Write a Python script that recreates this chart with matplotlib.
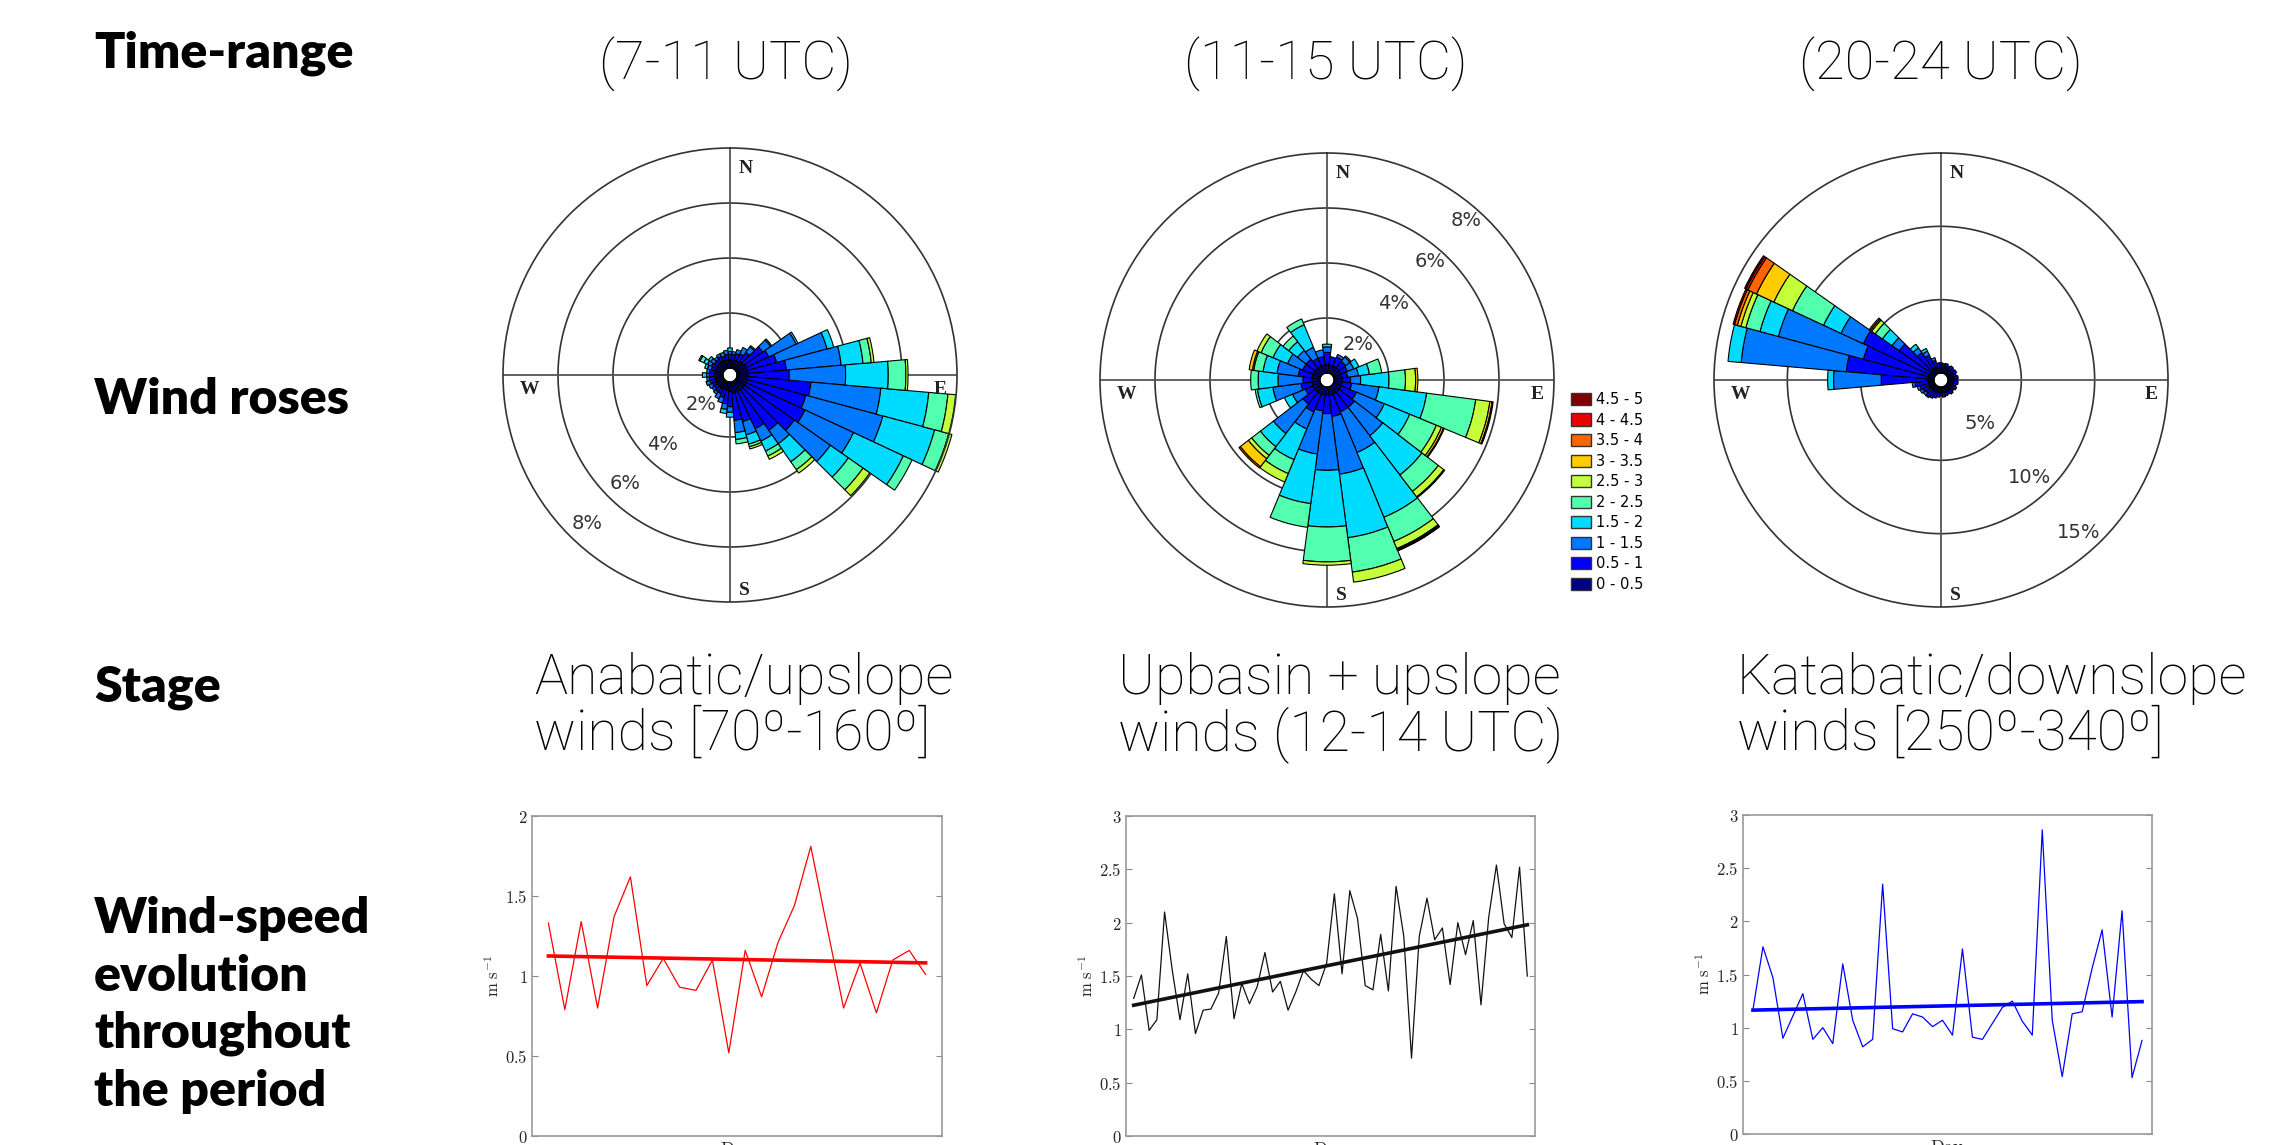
import matplotlib.pyplot as plt
import numpy as np
from matplotlib.patches import Patch

plt.rcParams['mathtext.fontset'] = 'cm'

W, H = 2276, 1145

# ---- texts ----
row_titles = ["Time-range", "Wind roses", "Stage"]
speed_title = ["Wind-speed", "evolution", "throughout", "the period"]
time_ranges = ["(7-11 UTC)", "(11-15 UTC)", "(20-24 UTC)"]
stage_line1 = ["Anabatic/upslope", "Upbasin + upslope", "Katabatic/downslope"]
stage_line2 = ["winds [70º-160º]", "winds (12-14 UTC)", "winds [250º-340º]"]

# ---- speed classes (m/s) ----
speed_bins = ['0 - 0.5', '0.5 - 1', '1 - 1.5', '1.5 - 2', '2 - 2.5',
              '2.5 - 3', '3 - 3.5', '3.5 - 4', '4 - 4.5', '4.5 - 5']
bin_colors = ['#000080', '#0000ff', '#0078ff', '#00dcff', '#52ffae',
              '#c4ff3c', '#ffcc00', '#ff6400', '#ee0000', '#800000']

# ---- wind roses: cumulative frequency (%) per direction, by speed class ----
rose1_dirs = list(range(0, 360, 10))
rose1_cum = [
    [0.3, 0.5, 0.6, 0.73], [0.3, 0.5, 0.6], [0.3, 0.55, 0.7], [0.3, 0.6, 0.85],
    [0.35, 0.75, 1.0, 1.05], [0.35, 1.2, 1.55, 1.6], [0.4, 1.3, 2.4, 2.47],
    [0.4, 1.5, 3.4, 3.65], [0.4, 1.8, 3.8, 4.6, 4.9, 5.0],
    [0.4, 1.9, 3.95, 5.5, 6.14, 6.22], [0.4, 2.7, 5.25, 7.0, 7.7, 7.98],
    [0.4, 2.6, 5.5, 7.45, 7.98, 8.1], [0.4, 2.75, 4.7, 6.7, 7.05],
    [0.4, 2.6, 4.2, 5.0, 5.65, 5.95], [0.4, 2.2, 2.8, 3.6, 3.95, 4.1],
    [0.4, 1.9, 2.4, 2.8, 3.0, 3.13], [0.4, 1.5, 2.0, 2.35, 2.45, 2.53],
    [0.4, 1.4, 1.85, 2.1, 2.26], [0.35, 0.9, 1.1, 1.28], [0.3, 0.8, 1.0, 1.15],
    [0.3, 0.6, 0.8], [0.3, 0.5, 0.7], [0.3, 0.5, 0.6], [0.3, 0.45, 0.55],
    [0.3, 0.45, 0.6], [0.3, 0.5, 0.65], [0.3, 0.5, 0.6], [0.3, 0.5, 0.6, 0.75],
    [0.3, 0.5, 0.6], [0.3, 0.45, 0.6, 0.7], [0.3, 0.5, 0.65, 0.8, 0.95, 1.0],
    [0.3, 0.45, 0.6, 0.7], [0.3, 0.45, 0.55], [0.3, 0.5, 0.6], [0.3, 0.45, 0.6],
    [0.3, 0.5, 0.65],
]

rose2_dirs = list(range(0, 360, 15))
rose2_cum = [
    [0.3, 0.75, 0.95, 1.05], [0.3, 0.6], [0.3, 0.65, 0.75], [0.3, 0.6, 0.8, 0.85],
    [0.3, 0.55, 0.8, 1.0], [0.3, 0.5, 0.9, 1.3, 1.75],
    [0.3, 0.6, 0.97, 2.0, 2.6, 2.97, 3.05],
    [0.3, 0.65, 1.65, 3.4, 5.2, 5.72, 5.8, 5.84],
    [0.3, 0.9, 2.0, 3.0, 4.05, 4.25, 4.33, 4.36],
    [0.3, 1.0, 2.3, 4.1, 4.85, 5.1, 5.14],
    [0.3, 1.0, 2.6, 5.15, 6.1, 6.38, 6.42, 6.45, 6.47],
    [0.3, 1.08, 3.2, 5.53, 6.79, 7.16],
    [0.3, 0.97, 3.03, 5.09, 6.36, 6.48],
    [0.3, 0.88, 2.46, 4.28, 5.15],
    [0.3, 1.0, 1.67, 2.88, 3.43, 3.76],
    [0.3, 0.85, 2.2, 2.8, 3.2, 3.35, 3.72, 3.78],
    [0.3, 0.6, 1.1, 1.42], [0.3, 0.7, 1.73, 2.3, 2.38],
    [0.3, 0.62, 1.53, 2.25, 2.52], [0.3, 0.8, 1.58, 2.09, 2.43, 2.48, 2.6],
    [0.3, 0.7, 1.3, 1.87, 2.34, 2.5], [0.3, 0.7, 1.1, 1.5, 1.76],
    [0.3, 0.6, 1.03, 1.92, 2.15], [0.3, 0.6, 0.85],
]

rose3_dirs = list(range(0, 360, 10))
rose3_cum = [
    [0.4, 0.7], [0.4, 0.65], [0.4, 0.7], [0.4, 0.6], [0.4, 0.7], [0.4, 0.65],
    [0.4, 0.7], [0.4, 0.6], [0.4, 0.7], [0.4, 0.65], [0.4, 0.7], [0.4, 0.6],
    [0.4, 0.7], [0.4, 0.6], [0.4, 0.7], [0.4, 0.6], [0.4, 0.65], [0.4, 0.7],
    [0.4, 0.6], [0.4, 0.7], [0.4, 0.8], [0.4, 0.9], [0.4, 0.9, 1.0],
    [0.4, 0.8, 1.0], [0.4, 0.9, 1.1], [0.4, 1.0, 1.2], [0.4, 1.3, 1.5],
    [0.4, 3.6, 6.85, 7.25], [0.4, 6.0, 13.2, 14.1],
    [0.4, 5.0, 11.0, 12.3, 13.3, 13.65, 13.9, 14.1, 14.2],
    [0.4, 5.37, 7.05, 8.36, 10.7, 12.1, 13.4, 14.05, 14.2, 14.3],
    [0.4, 3.0, 3.6, 4.4, 5.0, 5.3, 5.4, 5.5],
    [0.4, 1.8, 2.2, 2.5], [0.4, 1.4, 1.7, 1.9], [0.4, 0.9, 1.1], [0.4, 0.7],
]

# ---- daily wind speed (m/s) ----
speed1 = [1.33, 0.79, 1.34, 0.80, 1.37, 1.62, 0.94, 1.11, 0.93, 0.91, 1.10, 0.52,
          1.16, 0.87, 1.21, 1.44, 1.81, 1.30, 0.80, 1.08, 0.77, 1.10, 1.16, 1.01]
speed2 = [1.29, 1.51, 0.99, 1.09, 2.10, 1.55, 1.09, 1.52, 0.96, 1.18,
          1.19, 1.34, 1.87, 1.10, 1.43, 1.24, 1.40, 1.72, 1.35, 1.45,
          1.18, 1.35, 1.55, 1.47, 1.41, 1.62, 2.27, 1.52, 2.30, 2.04,
          1.41, 1.37, 1.89, 1.36, 2.34, 1.87, 0.73, 1.87, 2.23, 1.84,
          1.95, 1.42, 2.00, 1.70, 2.02, 1.23, 2.05, 2.54, 1.99, 1.86,
          2.52, 1.50]
speed3 = [1.17, 1.76, 1.47, 0.90, 1.11, 1.32, 0.89, 1.00, 0.85, 1.60,
          1.07, 0.82, 0.89, 2.35, 0.99, 0.96, 1.13, 1.10, 1.01, 1.07,
          0.93, 1.74, 0.91, 0.89, 1.04, 1.19, 1.25, 1.06, 0.93, 2.86,
          1.07, 0.54, 1.13, 1.15, 1.56, 1.92, 1.10, 2.10, 0.53, 0.88]
trend1 = [1.125, 1.082]
trend2 = [1.226, 1.98]
trend3 = [1.165, 1.245]

fig = plt.figure(figsize=(W / 100, H / 100), dpi=100)


def fy(y):
    return 1 - y / H


# row titles on the left
title_font = dict(family='Lato', fontweight='heavy', fontsize=36, color='black')
for t, yb in zip(row_titles, [67, 414, 701]):
    fig.text(94 / W, fy(yb), t, va='baseline', ha='left', **title_font)
for t, yb in zip(speed_title, [933, 991, 1048, 1106]):
    fig.text(94 / W, fy(yb), t, va='baseline', ha='left', **title_font)

# column headers and stages
light_font = dict(family='Roboto', fontweight='light', color='black')
for t, xc in zip(time_ranges, [726, 1326, 1941]):
    fig.text(xc / W, fy(80), t, va='baseline', ha='center', fontsize=39, **light_font)
for l1, l2, xl in zip(stage_line1, stage_line2, [534, 1118, 1737]):
    fig.text(xl / W, fy(694), l1, va='baseline', ha='left', fontsize=40, **light_font)
    fig.text(xl / W, fy(750), l2, va='baseline', ha='left', fontsize=40, **light_font)


def rose(cx, cy, dirs, step, cum, rmax, rings, lab_ang, lab_off):
    R, hole = 227, 7
    ax = fig.add_axes([(cx - R) / W, (H - cy - R) / H, 2 * R / W, 2 * R / H],
                      projection='polar')
    ax.set_theta_zero_location('N')
    ax.set_theta_direction(-1)
    ax.set_ylim(0, rmax)
    ax.set_rorigin(-rmax * hole / (R - hole))
    ax.set_xticks([])
    ax.set_yticks([])
    ax.grid(False)
    ax.spines['polar'].set_color('#333333')
    ax.spines['polar'].set_linewidth(1.2)
    ax.spines['inner'].set_color('black')

    # rings and cross
    th = np.linspace(0, 2 * np.pi, 400)
    for r in rings:
        ax.plot(th, np.full_like(th, r), color='#333333', lw=1.2, zorder=1)
    for a in [0, 90, 180, 270]:
        ax.plot([np.deg2rad(a)] * 2, [0, rmax], color='#555555', lw=1.3, zorder=1)

    # stacked bars
    n = len(bin_colors)
    table = np.array([row + [row[-1]] * (n - len(row)) for row in cum])
    theta = np.deg2rad(dirs)
    bottom = np.zeros(len(dirs))
    for k in range(n):
        h = table[:, k] - bottom
        keep = h > 0
        if keep.any():
            ax.bar(theta[keep], h[keep], width=np.deg2rad(step), bottom=bottom[keep],
                   color=bin_colors[k], edgecolor='black', linewidth=0.8,
                   zorder=2, clip_on=False)
        bottom = table[:, k]

    for r in rings + [rmax]:
        ax.text(np.deg2rad(lab_ang), r - lab_off, f'{r:g}%', ha='center', va='center',
                fontsize=14, color='#333333', zorder=3)

    letter = dict(family='Liberation Serif', fontweight='bold', fontsize=14,
                  color='#222222', transform=ax.transAxes, va='center', ha='center', zorder=4)
    ax.text(0.535, 0.955, 'N', **letter)
    ax.text(0.962, 0.468, 'E', **letter)
    ax.text(0.058, 0.468, 'W', **letter)
    ax.text(0.531, 0.025, 'S', **letter)
    return ax


rose(730, 375, rose1_dirs, 10, rose1_cum, 8, [2, 4, 6], 224, 0.75)
rose(1327, 380, rose2_dirs, 15, rose2_cum, 8, [2, 4, 6], 41, 0.55)
rose(1941, 380, rose3_dirs, 10, rose3_cum, 15, [5, 10], 138, 1.5)

# legend
handles = [Patch(facecolor=c, edgecolor='#333333', linewidth=1) for c in bin_colors[::-1]]
fig.legend(handles, speed_bins[::-1], loc='upper left',
           bbox_to_anchor=(1571 / W, fy(392)), frameon=False, fontsize=10.5,
           handlelength=1.35, handleheight=0.9, labelspacing=0.38,
           handletextpad=0.35, borderpad=0, borderaxespad=0)


def speed_panel(left, top, right, bottom, vals, trend, color, ymax):
    ax = fig.add_axes([left / W, (H - bottom) / H, (right - left) / W, (bottom - top) / H])
    x = np.arange(1, len(vals) + 1)
    ax.plot(x, vals, color=color, lw=0.9)
    ax.plot([1, len(vals)], trend, color=color, lw=2.6)
    ax.set_xlim(0, len(vals) + 1)
    ax.set_ylim(0, ymax)
    ticks = np.arange(0, ymax + 0.01, 0.5)
    ax.set_yticks(ticks)
    ax.set_yticklabels([f'${t:g}$' for t in ticks])
    ax.set_xticks([])
    ax.tick_params(axis='y', direction='in', right=True, length=4, color='#888888',
                   labelcolor='#262626', labelsize=12, pad=3)
    for s in ax.spines.values():
        s.set_color('#999999')
        s.set_linewidth(1.2)
    ax.set_ylabel(r'$\mathrm{m\ s^{-1}}$', fontsize=12, color='#262626', labelpad=2)
    # the reference crops the "Day" label at the bottom edge of the figure
    ax.set_xlabel(r'$\mathrm{Day}$', fontsize=13, color='#262626', labelpad=3)
    return ax


speed_panel(532, 816, 942, 1136, speed1, trend1, '#ff0000', 2)
speed_panel(1126, 816, 1535, 1136, speed2, trend2, '#111111', 3)
speed_panel(1743, 815, 2152, 1134, speed3, trend3, '#0000ff', 3)

fig.savefig('out.png', dpi=100)
